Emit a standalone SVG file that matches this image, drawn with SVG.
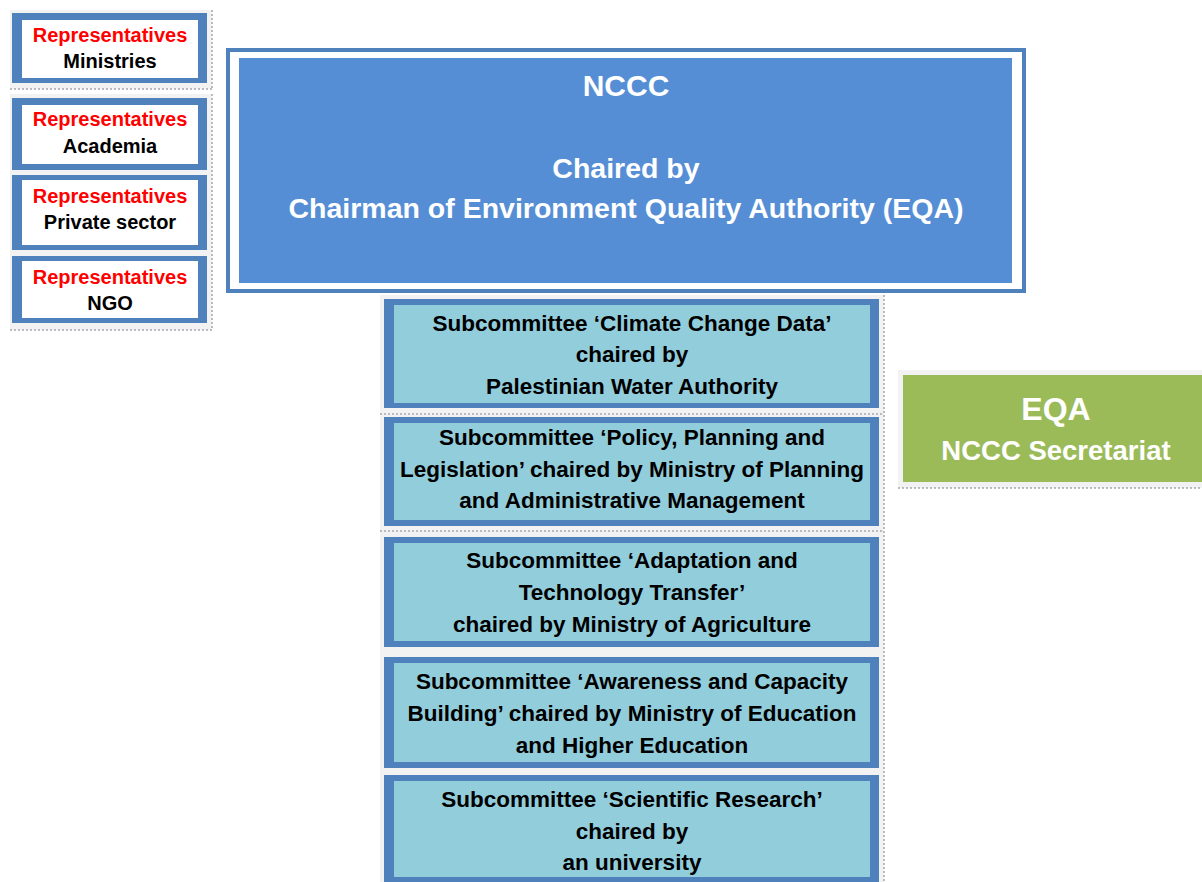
<svg xmlns="http://www.w3.org/2000/svg" width="1202" height="882" viewBox="0 0 1202 882">
  <style>
    .bg { fill: #f2f2f2; }
    .edge { stroke: #a6a6b0; stroke-width: 1.5; stroke-dasharray: 2 2; fill: none; }
    .rep-frame { fill: #4f81bd; }
    .rep-inner { fill: #ffffff; }
    .sub-frame { fill: #4f81bd; }
    .sub-inner { fill: #92cddc; }
    text { font-family: "Liberation Sans", Arial, sans-serif; font-weight: bold; text-anchor: middle; }
    .red { fill: #ff0000; font-size: 20px; }
    .blk { fill: #000000; font-size: 20px; }
    .sub { fill: #000000; font-size: 22.5px; }
    .wh { fill: #ffffff; }
  </style>

  <!-- Representative groups (left column) -->
  <g id="rep-backdrop">
    <rect class="bg" x="10" y="10" width="202" height="79"/>
    <rect class="bg" x="10" y="94" width="202" height="236"/>
    <line class="edge" x1="10" y1="89" x2="212" y2="89"/>
    <line class="edge" x1="212" y1="10" x2="212" y2="89"/>
    <line class="edge" x1="212" y1="94" x2="212" y2="330"/>
    <line class="edge" x1="10" y1="330" x2="212" y2="330"/>
  </g>
  <g id="rep-ministries">
    <rect class="rep-frame" x="12" y="13" width="195" height="70"/>
    <rect class="rep-inner" x="22" y="20" width="176" height="58"/>
    <text class="red" x="110" y="42">Representatives</text>
    <text class="blk" x="110" y="68">Ministries</text>
  </g>
  <g id="rep-academia">
    <rect class="rep-frame" x="12" y="98" width="195" height="72"/>
    <rect class="rep-inner" x="22" y="105" width="176" height="59"/>
    <text class="red" x="110" y="126">Representatives</text>
    <text class="blk" x="110" y="153">Academia</text>
  </g>
  <g id="rep-private">
    <rect class="rep-frame" x="12" y="175" width="195" height="75"/>
    <rect class="rep-inner" x="22" y="180" width="176" height="65"/>
    <text class="red" x="110" y="203">Representatives</text>
    <text class="blk" x="110" y="229">Private sector</text>
  </g>
  <g id="rep-ngo">
    <rect class="rep-frame" x="12" y="256" width="195" height="67"/>
    <rect class="rep-inner" x="22" y="261" width="176" height="57"/>
    <text class="red" x="110" y="284">Representatives</text>
    <text class="blk" x="110" y="310">NGO</text>
  </g>

  <!-- NCCC -->
  <g id="nccc">
    <rect x="228" y="50" width="796" height="241" fill="#ffffff" stroke="#4f81bd" stroke-width="4"/>
    <rect x="239" y="58" width="773" height="225" fill="#558ed5"/>
    <text class="wh" x="626" y="96" font-size="30">NCCC</text>
    <text class="wh" x="626" y="178" font-size="28.5">Chaired by</text>
    <text class="wh" x="626" y="218" font-size="28.5">Chairman of Environment Quality Authority (EQA)</text>
  </g>

  <!-- Subcommittees -->
  <g id="sub-backdrop">
    <rect class="bg" x="380" y="295" width="504" height="587"/>
    <line class="edge" x1="884" y1="295" x2="884" y2="882"/>
    <line class="edge" x1="380" y1="414" x2="884" y2="414"/>
    <line class="edge" x1="380" y1="531" x2="884" y2="531"/>
  </g>
  <g id="sub-data">
    <rect class="sub-frame" x="384" y="299" width="495" height="109"/>
    <rect class="sub-inner" x="394" y="305" width="476" height="98"/>
    <text class="sub" x="632" y="331">Subcommittee ‘Climate Change Data’</text>
    <text class="sub" x="632" y="362">chaired by</text>
    <text class="sub" x="632" y="394">Palestinian Water Authority</text>
  </g>
  <g id="sub-policy">
    <rect class="sub-frame" x="384" y="417" width="495" height="109"/>
    <rect class="sub-inner" x="394" y="423" width="476" height="97"/>
    <text class="sub" x="632" y="445">Subcommittee ‘Policy, Planning and</text>
    <text class="sub" x="632" y="477">Legislation’ chaired by Ministry of Planning</text>
    <text class="sub" x="632" y="508">and Administrative Management</text>
  </g>
  <g id="sub-adaptation">
    <rect class="sub-frame" x="384" y="537" width="495" height="110"/>
    <rect class="sub-inner" x="394" y="543" width="476" height="98"/>
    <text class="sub" x="632" y="568">Subcommittee ‘Adaptation and</text>
    <text class="sub" x="632" y="600">Technology Transfer’</text>
    <text class="sub" x="632" y="632">chaired by Ministry of Agriculture</text>
  </g>
  <g id="sub-awareness">
    <rect class="sub-frame" x="384" y="657" width="495" height="111"/>
    <rect class="sub-inner" x="394" y="663" width="476" height="99"/>
    <text class="sub" x="632" y="689">Subcommittee ‘Awareness and Capacity</text>
    <text class="sub" x="632" y="721">Building’ chaired by Ministry of Education</text>
    <text class="sub" x="632" y="753">and Higher Education</text>
  </g>
  <g id="sub-research">
    <rect class="sub-frame" x="384" y="775" width="495" height="112"/>
    <rect class="sub-inner" x="394" y="781" width="476" height="96"/>
    <text class="sub" x="632" y="807">Subcommittee ‘Scientific Research’</text>
    <text class="sub" x="632" y="839">chaired by</text>
    <text class="sub" x="632" y="870">an university</text>
  </g>

  <!-- Secretariat -->
  <g id="eqa-secretariat">
    <rect class="bg" x="898" y="370" width="304" height="118"/>
    <line class="edge" x1="898" y1="488" x2="1202" y2="488"/>
    <rect x="903" y="375" width="299" height="107" fill="#9bbb59"/>
    <text class="wh" x="1056" y="420" font-size="32">EQA</text>
    <text class="wh" x="1056" y="460" font-size="27.5">NCCC Secretariat</text>
  </g>
</svg>
